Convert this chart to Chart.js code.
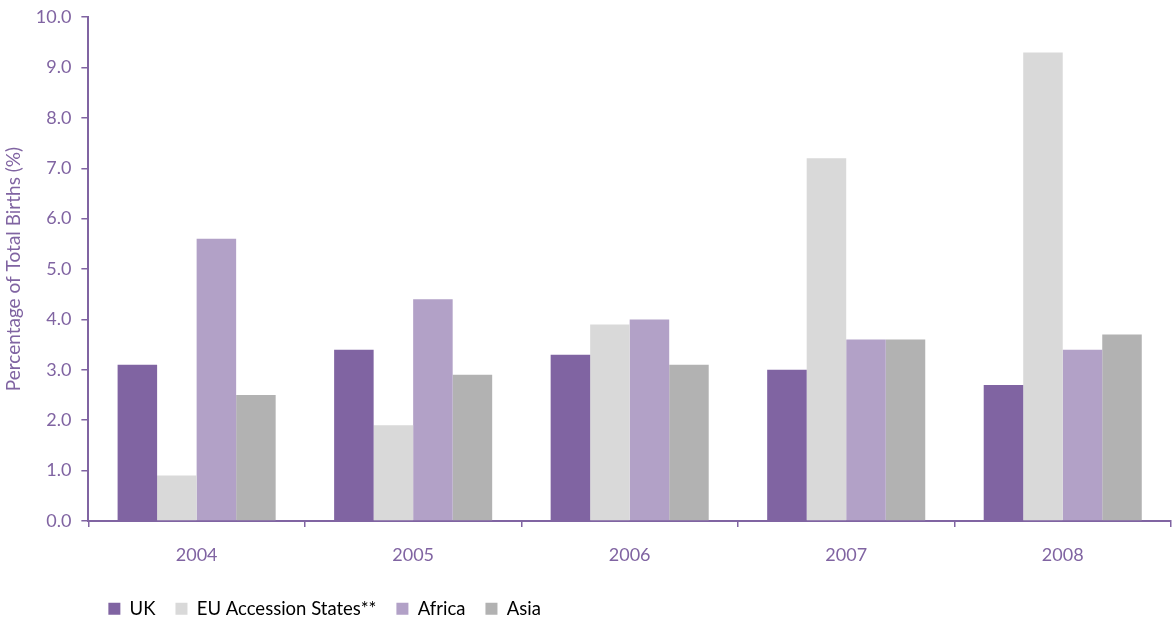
<!DOCTYPE html>
<html lang="en">
<head>
  <meta charset="UTF-8" />
  <title>Births by mother's country of birth</title>
  <style>
    html, body {
      margin: 0;
      padding: 0;
      background: #ffffff;
    }
    #wrap {
      width: 1173px;
      height: 622px;
      position: relative;
    }
  </style>
</head>
<body>
  <div id="wrap">
    <canvas id="grafico"></canvas>
  </div>

  <script src="https://cdn.jsdelivr.net/npm/chart.js"></script>
  <script>
    const anos = ['2004', '2005', '2006', '2007', '2008'];
    const uk = [3.1, 3.4, 3.3, 3.0, 2.7];
    const euAccession = [0.9, 1.9, 3.9, 7.2, 9.3];
    const africa = [5.6, 4.4, 4.0, 3.6, 3.4];
    const asia = [2.5, 2.9, 3.1, 3.6, 3.7];
    const yTicks = [0, 1, 2, 3, 4, 5, 6, 7, 8, 9, 10];

    const roxo = '#8064A2';
    const fonte = 'Lato, "Open Sans", sans-serif';

    const ctx = document.getElementById('grafico').getContext('2d');
    new Chart(ctx, {
      type: 'bar',
      data: {
        labels: anos,
        datasets: [
          { label: 'UK', data: uk, backgroundColor: '#8064A2' },
          { label: 'EU Accession States**', data: euAccession, backgroundColor: '#D9D9D9' },
          { label: 'Africa', data: africa, backgroundColor: '#B2A1C7' },
          { label: 'Asia', data: asia, backgroundColor: '#B2B2B2' }
        ]
      },
      options: {
        responsive: true,
        maintainAspectRatio: false,
        animation: false,
        datasets: {
          bar: { categoryPercentage: 0.73, barPercentage: 1.0 }
        },
        layout: { padding: { top: 17, right: 2, left: 2, bottom: -6 } },
        scales: {
          x: {
            afterFit: axis => { axis.height -= 3; },
            grid: {
              drawOnChartArea: false,
              offset: true,
              tickLength: 6,
              color: roxo,
              lineWidth: 1.5
            },
            border: { color: roxo, width: 2 },
            ticks: {
              color: roxo,
              padding: 17,
              font: { family: fonte, size: 18 }
            }
          },
          y: {
            min: 0,
            max: 10,
            afterBuildTicks: axis => {
              axis.ticks = yTicks.map(v => ({ value: v }));
            },
            grid: {
              drawOnChartArea: false,
              tickLength: 7,
              color: roxo,
              lineWidth: 1.5
            },
            border: { color: roxo, width: 2 },
            ticks: {
              color: roxo,
              padding: 10,
              font: { family: fonte, size: 18, lineHeight: 0.8 },
              callback: v => Number(v).toFixed(1)
            },
            title: {
              display: true,
              text: 'Percentage of Total Births (%)',
              color: roxo,
              padding: { top: 0, bottom: 1 },
              font: { family: fonte, size: 19 }
            }
          }
        },
        plugins: {
          legend: {
            position: 'bottom',
            align: 'start',
            fullSize: false,
            labels: {
              boxWidth: 12,
              boxHeight: 12,
              padding: 20,
              color: '#000000',
              font: { family: fonte, size: 18.5, lineHeight: 1.1 }
            }
          },
          tooltip: { enabled: false }
        }
      }
    });
  </script>
</body>
</html>
